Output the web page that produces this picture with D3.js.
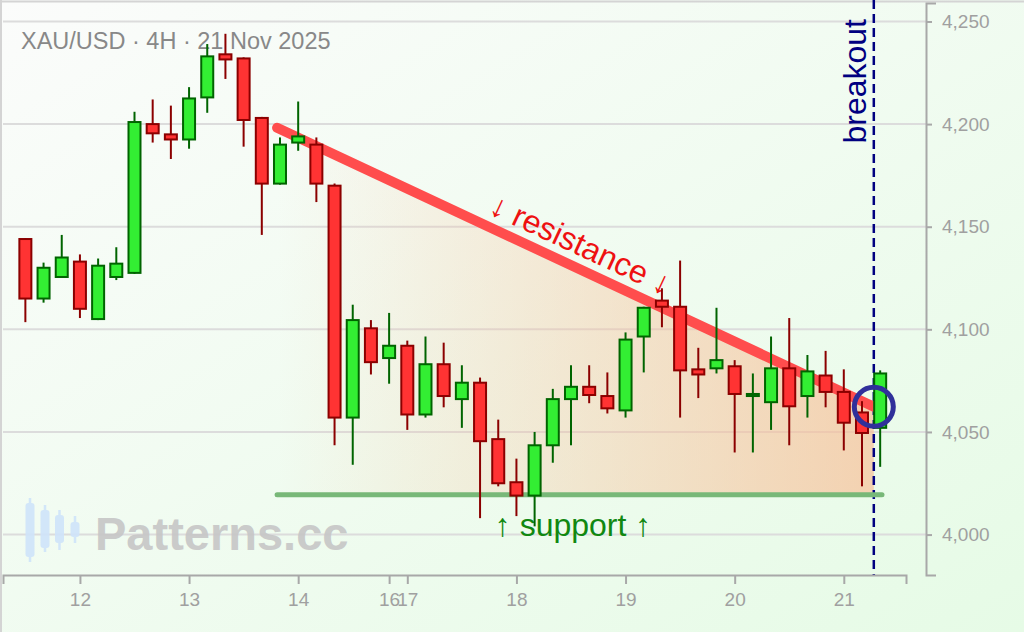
<!DOCTYPE html>
<html><head><meta charset="utf-8">
<script src="https://cdn.jsdelivr.net/npm/d3@7"></script>
<style>body{margin:0;background:#fff;} svg{display:block;}</style>
</head><body>
<svg id="c" width="1024" height="632"></svg>
<script>
// ---- data ----
const opens  = [4144,4115,4125.5,4133,4105,4125.5,4127.5,4200,4195,4192.5,4213,4234,4232,4203,4171,4191,4190,4170,4057,4100.5,4086,4092,4058.5,4083,4066,4074,4046.5,4025.5,4019,4043.5,4066,4072,4067.5,4060.5,4096.5,4114,4111,4080.5,4081,4082,4067.5,4064.5,4081,4067.5,4077.5,4069.5,4059.5,4052];
const highs  = [4144.5,4132.5,4146,4136.5,4134.5,4140,4206,4212,4209,4218,4239,4244,4232.5,4203.5,4193.5,4211,4193.5,4171,4112,4104.5,4108,4094.5,4096.5,4093.5,4082.5,4076.5,4056,4037,4050,4071,4082.5,4082.5,4079,4098.5,4111,4120,4133.5,4091,4110.5,4085,4078.5,4096.5,4105.5,4087.5,4089.5,4080.5,4065,4080];
const lows   = [4103.5,4113,4125,4105.5,4104.5,4124,4127,4191,4183,4188,4205.5,4222,4189,4146,4170.5,4187,4162,4043.5,4034,4078,4073.5,4051,4057,4062,4052,4008,4023.5,4009,4004,4035,4043.5,4064,4059,4057,4079,4101,4057,4066.5,4078.5,4040,4040,4051,4043.5,4057,4062,4041,4023.5,4033];
const closes = [4115,4130,4135,4110,4131,4132,4201,4195.5,4192.5,4212.5,4233,4231.5,4202,4171,4190,4194,4171,4057,4104.5,4084,4092,4058.5,4083,4067.5,4074,4045.5,4025,4019,4043.5,4066,4072,4068,4061.5,4095,4110.5,4111,4080,4078,4085,4068.5,4068.5,4081,4062.5,4079.5,4069.5,4054.5,4049.5,4078.5];
const xTickIndex  = [3,9,15,20,21,27,33,39,45];
const xTickLabels = ["12","13","14","16","17","18","19","20","21"];
const yTicks = [4000,4050,4100,4150,4200,4250];
const resistanceIdx = [13.84, 46.65];
const resistanceVal = [4198.2, 4062.3];
const supportIdx = [13.84, 47.1];
const supportVal = 4019.4;
const breakoutIdx = 46.65;
const titleText = "XAU/USD · 4H · 21 Nov 2025";

// ---- drawing ----
const svg = d3.select("#c");
const W = 1024, H = 632;
const FONT = "'Liberation Sans', Arial, Helvetica, sans-serif";
const x = d3.scaleLinear().domain([-1.23, 48.42]).range([3, 906]);
const y = d3.scaleLinear().domain([3980.3, 4259]).range([575, 3]);

const defs = svg.append("defs");
const bg = defs.append("linearGradient").attr("id","bg").attr("x1","0").attr("y1","0").attr("x2","1").attr("y2","1");
bg.append("stop").attr("offset","0").attr("stop-color","#fbfcfb");
bg.append("stop").attr("offset","1").attr("stop-color","#e6fbe6");
const tri = defs.append("linearGradient").attr("id","tri").attr("gradientUnits","userSpaceOnUse")
  .attr("x1", x(resistanceIdx[0])).attr("y1",0).attr("x2", x(breakoutIdx)).attr("y2",0);
tri.append("stop").attr("offset","0").attr("stop-color","rgb(248,190,150)").attr("stop-opacity",0.0);
tri.append("stop").attr("offset","1").attr("stop-color","rgb(248,190,150)").attr("stop-opacity",0.68);

svg.append("rect").attr("width",W).attr("height",H).attr("fill","url(#bg)");
// frame lines
svg.append("line").attr("x1",0).attr("x2",W).attr("y1",1.5).attr("y2",1.5).attr("stroke","#d4d4d4").attr("stroke-width",2);
svg.append("line").attr("x1",1).attr("x2",1).attr("y1",0).attr("y2",H).attr("stroke","#d4d4d4").attr("stroke-width",2);

// grid
svg.append("g").selectAll("line").data(yTicks).join("line")
  .attr("x1",3).attr("x2",926).attr("y1",d=>y(d)).attr("y2",d=>y(d))
  .attr("stroke","#dcdcdc").attr("stroke-width",2);

// title
svg.append("text").attr("x",21).attr("y",49).attr("font-family",FONT).attr("font-size",23.5)
  .attr("fill","#888").text(titleText);

// watermark
const wm = svg.append("g").attr("opacity",0.9);
[[30,498,562,503,557],[45,505,552,510,548],[59.5,510,550,515,543],[75,516,543,522,537]].forEach(c=>{
  wm.append("line").attr("x1",c[0]).attr("x2",c[0]).attr("y1",c[1]).attr("y2",c[2]).attr("stroke","#cfe4fa").attr("stroke-width",2.5);
  wm.append("rect").attr("x",c[0]-4.5).attr("width",9).attr("y",c[3]).attr("height",c[4]-c[3]).attr("rx",3).attr("fill","#cfe4fa");
});
wm.append("text").attr("x",95).attr("y",550).attr("font-family",FONT).attr("font-weight","bold")
  .attr("font-size",47).attr("fill","#c6c6c6").text("Patterns.cc");

// triangle fill
const rx0 = x(resistanceIdx[0]), ry0 = y(resistanceVal[0]);
const rx1 = x(resistanceIdx[1]), ry1 = y(resistanceVal[1]);
svg.append("path").attr("d", d3.line()([[rx0,ry0],[rx1,ry1],[x(breakoutIdx),y(supportVal)],[rx0,y(supportVal)]]) + "Z")
  .attr("fill","url(#tri)");

// breakout dashed line
svg.append("line").attr("x1",x(breakoutIdx)).attr("x2",x(breakoutIdx)).attr("y1",0).attr("y2",575)
  .attr("stroke","#000080").attr("stroke-width",2.5).attr("stroke-dasharray","9,5");

// support line
svg.append("line").attr("x1",x(supportIdx[0])).attr("x2",x(supportIdx[1])).attr("y1",y(supportVal)).attr("y2",y(supportVal))
  .attr("stroke","#78b878").attr("stroke-width",5).attr("stroke-linecap","round");
// resistance line
svg.append("line").attr("x1",rx0).attr("y1",ry0).attr("x2",rx1).attr("y2",ry1)
  .attr("stroke","#ff4d4d").attr("stroke-width",10).attr("stroke-linecap","round");

// resistance label
const ang = Math.atan2(ry1-ry0, rx1-rx0)*180/Math.PI;
const lx = 571, ly = ry0 + (lx-rx0)*(ry1-ry0)/(rx1-rx0);
svg.append("text").attr("transform",`translate(${lx},${ly}) rotate(${ang})`).attr("y",-12)
  .attr("text-anchor","middle").attr("font-family",FONT).attr("font-size",32).attr("fill","#ee1111")
  .text("↓ resistance ↓");
// support label
svg.append("text").attr("x",573).attr("y",536).attr("text-anchor","middle").attr("font-family",FONT)
  .attr("font-size",32).attr("fill","#118811").text("↑ support ↑");
// breakout label
svg.append("text").attr("transform",`translate(${x(breakoutIdx)-8},19) rotate(-90)`).attr("text-anchor","end")
  .attr("font-family",FONT).attr("font-size",32).attr("fill","#000080").text("breakout");

// candles
const idx = d3.range(opens.length);
const cg = svg.append("g");
const g = cg.selectAll("g").data(idx).join("g");
const up = i => closes[i] >= opens[i];
g.append("line").attr("x1",i=>x(i)).attr("x2",i=>x(i)).attr("y1",i=>y(highs[i])).attr("y2",i=>y(lows[i]))
  .attr("stroke",i=>up(i)?"#006400":"#8b0000").attr("stroke-width",2);
g.append("rect").attr("x",i=>x(i)-6).attr("width",12)
  .attr("y",i=>y(Math.max(opens[i],closes[i])))
  .attr("height",i=>Math.max(1.5, Math.abs(y(opens[i])-y(closes[i]))))
  .attr("fill",i=>up(i)?"#33ee33":"#ff3333").attr("stroke",i=>up(i)?"#006400":"#8b0000").attr("stroke-width",2);

// breakout circle
svg.append("circle").attr("cx",rx1).attr("cy",ry1).attr("r",19.5).attr("fill","none")
  .attr("stroke","#30309a").attr("stroke-width",5);

// axes
const xa = svg.append("g").attr("transform","translate(0,575)")
  .call(d3.axisBottom(x).tickValues(xTickIndex).tickFormat((d,i)=>xTickLabels[i]).tickSizeInner(9).tickSizeOuter(9).tickPadding(9));
const ya = svg.append("g").attr("transform","translate(926,0)")
  .call(d3.axisRight(y).tickValues(yTicks).tickFormat(d3.format(",")).tickSizeInner(6).tickSizeOuter(10).tickPadding(10));
[xa,ya].forEach(a=>{
  a.select(".domain").attr("stroke","#a8a8a8").attr("stroke-width",2);
  a.selectAll(".tick line").attr("stroke","#a8a8a8").attr("stroke-width",2);
  a.selectAll("text").attr("font-family",FONT).attr("font-size",19).attr("fill","#a0a0a0");
});
</script>
</body></html>
